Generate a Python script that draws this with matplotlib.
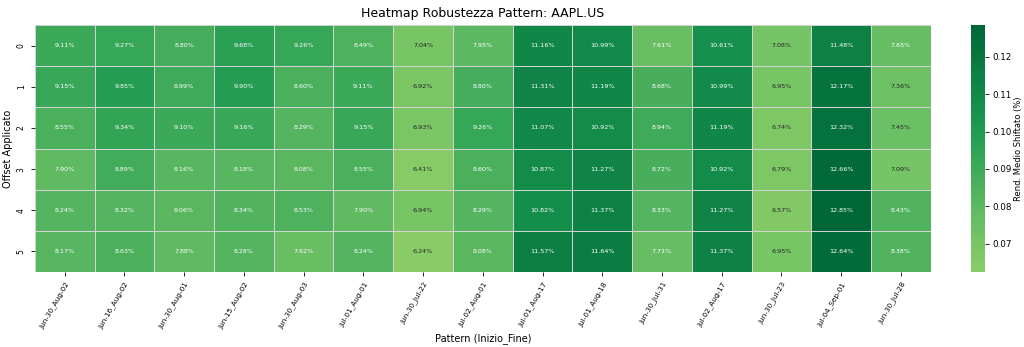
import numpy as np
import pandas as pd
import matplotlib
matplotlib.use("Agg")
import matplotlib.pyplot as plt
import seaborn as sns

patterns = ["Jun-30_Aug-02", "Jun-16_Aug-02", "Jun-30_Aug-01", "Jun-15_Aug-02",
            "Jun-30_Aug-03", "Jul-01_Aug-01", "Jun-30_Jul-22", "Jul-02_Aug-01",
            "Jul-01_Aug-17", "Jul-01_Aug-18", "Jun-30_Jul-31", "Jul-02_Aug-17",
            "Jun-30_Jul-23", "Jul-04_Sep-01", "Jun-30_Jul-28"]
offsets = [0, 1, 2, 3, 4, 5]

# rendimento medio shiftato (in %)
rend = [
    [9.11, 9.27, 8.80, 9.68, 9.26, 8.49, 7.04, 7.95, 11.16, 10.99, 7.61, 10.61, 7.08, 11.48, 7.65],
    [9.15, 9.85, 8.99, 9.90, 8.60, 9.11, 6.92, 8.80, 11.31, 11.19, 8.68, 10.99, 6.95, 12.17, 7.36],
    [8.55, 9.34, 9.10, 9.16, 8.29, 9.15, 6.93, 9.26, 11.07, 10.92, 8.94, 11.19, 6.74, 12.32, 7.45],
    [7.90, 8.89, 8.16, 8.18, 8.08, 8.55, 6.41, 8.60, 10.87, 11.27, 8.72, 10.92, 6.79, 12.66, 7.09],
    [8.24, 8.32, 8.06, 8.34, 8.53, 7.90, 6.94, 8.29, 10.82, 11.37, 8.33, 11.27, 6.57, 12.85, 8.43],
    [8.17, 8.63, 7.88, 8.28, 7.62, 8.24, 6.24, 8.08, 11.57, 11.64, 7.71, 11.37, 6.95, 12.64, 8.38],
]

df = pd.DataFrame(np.array(rend) / 100, index=offsets, columns=patterns)

fig = plt.figure(figsize=(10.24, 3.47), dpi=100)
ax = fig.add_axes([0.034, 0.216, 0.875, 0.712])
cax = fig.add_axes([0.948, 0.216, 0.014, 0.712])

sns.heatmap(df, ax=ax, cbar_ax=cax, cmap="RdYlGn", center=0,
            annot=True, fmt=".2%", annot_kws={"fontsize": 4.6},
            linewidths=0.5, linecolor="lightgray")

ax.set_title("Heatmap Robustezza Pattern: AAPL.US", fontsize=9, pad=6)
ax.set_xlabel("Pattern (Inizio_Fine)", fontsize=7, labelpad=2)
ax.set_ylabel("Offset Applicato", fontsize=7, labelpad=3)
ax.set_xticklabels(ax.get_xticklabels(), rotation=60, ha="right",
                   rotation_mode="anchor", fontsize=5.2)
ax.set_yticklabels(ax.get_yticklabels(), rotation=90, va="center", fontsize=5.5)
ax.tick_params(length=3, width=0.6)
cax.tick_params(labelsize=6.3, length=3, width=0.6, pad=2)
cax.set_ylabel("Rend. Medio Shiftato (%)", fontsize=6, labelpad=2)

fig.savefig("out.png", dpi=100)
